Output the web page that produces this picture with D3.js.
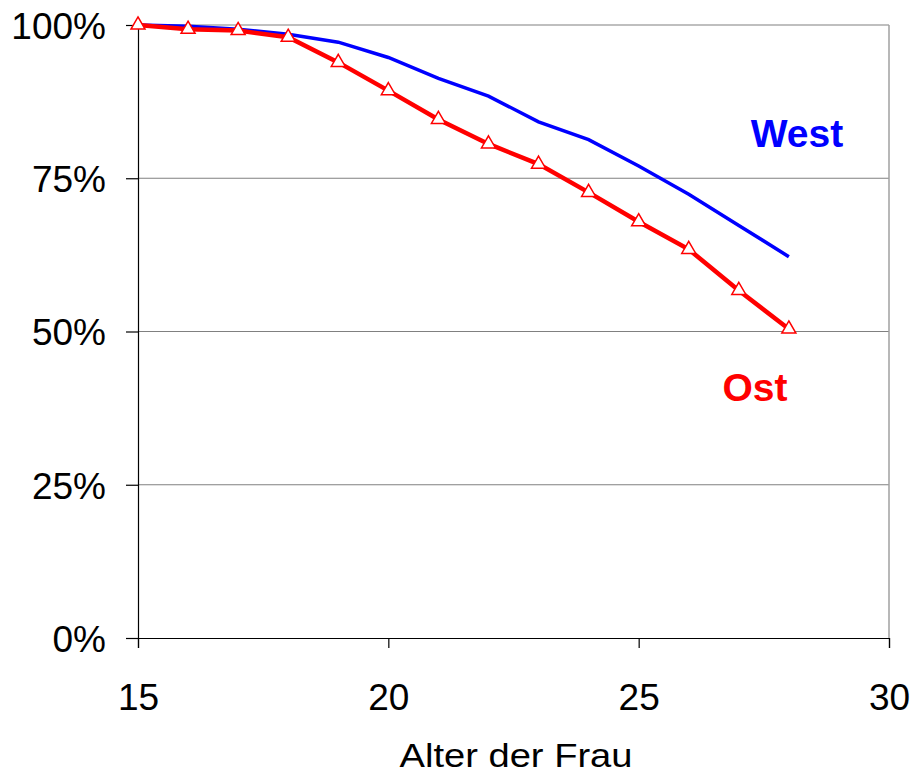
<!DOCTYPE html>
<html>
<head>
<meta charset="utf-8">
<script src="https://cdn.jsdelivr.net/npm/d3@7"></script>
<style>
body { margin: 0; background: #fff; }
</style>
</head>
<body>
<svg id="chart"></svg>
<script>
var ages = [15, 16, 17, 18, 19, 20, 21, 22, 23, 24, 25, 26, 27, 28];
var west = [100, 99.8, 99.3, 98.5, 97.2, 94.7, 91.3, 88.4, 84.2, 81.3, 77.0, 72.4, 67.3, 62.2];
var ost = [100, 99.3, 99.1, 98.0, 93.9, 89.3, 84.6, 80.6, 77.3, 72.7, 67.9, 63.4, 56.7, 50.4];
var xTicks = [15, 20, 25, 30];
var yTicks = [0, 25, 50, 75, 100];

var width = 915, height = 775;
var margin = {top: 25, right: 26, bottom: 137, left: 138};
var font = "'Liberation Sans', Arial, sans-serif";

var svg = d3.select("#chart")
    .attr("width", width)
    .attr("height", height);

var x = d3.scaleLinear().domain([15, 30]).range([margin.left, width - margin.right]);
var y = d3.scaleLinear().domain([0, 100]).range([height - margin.bottom, margin.top]);

// gridlines
svg.append("g")
    .selectAll("line")
    .data(yTicks.filter(function (d) { return d > 0; }))
    .enter().append("line")
    .attr("x1", x(15)).attr("x2", x(30))
    .attr("y1", function (d) { return y(d); })
    .attr("y2", function (d) { return y(d); })
    .attr("stroke", "#808080")
    .attr("stroke-width", 1.2);

// right border
svg.append("line")
    .attr("x1", x(30)).attr("x2", x(30))
    .attr("y1", y(100)).attr("y2", y(0))
    .attr("stroke", "#a0a0a0")
    .attr("stroke-width", 1.5);

var yAxis = d3.axisLeft(y).tickValues(yTicks).tickSize(12).tickPadding(20)
    .tickFormat(function (d) { return d + "%"; });
var gy = svg.append("g")
    .attr("transform", "translate(" + margin.left + ",0)")
    .call(yAxis);
gy.select(".domain").attr("stroke", "#000").attr("stroke-width", 1.2);
gy.selectAll(".tick line").attr("stroke", "#000").attr("stroke-width", 1.2);
gy.selectAll("text")
    .style("font-family", font)
    .style("font-size", "37px")
    .attr("fill", "#000")
    .attr("dy", "0.36em");

var xAxis = d3.axisBottom(x).tickValues(xTicks).tickSize(10).tickPadding(36)
    .tickFormat(d3.format("d"));
var gx = svg.append("g")
    .attr("transform", "translate(0," + y(0) + ")")
    .call(xAxis);
gx.select(".domain").attr("stroke", "#000").attr("stroke-width", 1.2);
gx.selectAll(".tick line").attr("stroke", "#000").attr("stroke-width", 1.2);
gx.selectAll("text")
    .style("font-family", font)
    .style("font-size", "37px")
    .attr("fill", "#000");

svg.append("text")
    .attr("x", 516)
    .attr("y", 767)
    .attr("text-anchor", "middle")
    .attr("textLength", 233)
    .attr("lengthAdjust", "spacingAndGlyphs")
    .style("font-family", font)
    .style("font-size", "34px")
    .text("Alter der Frau");

var line = d3.line()
    .x(function (d, i) { return x(ages[i]); })
    .y(function (d) { return y(d); });

svg.append("path")
    .datum(west)
    .attr("d", line)
    .attr("fill", "none")
    .attr("stroke", "#0000ff")
    .attr("stroke-width", 3.5);

svg.append("path")
    .datum(ost)
    .attr("d", line)
    .attr("fill", "none")
    .attr("stroke", "#ff0000")
    .attr("stroke-width", 4.5);

var tri = d3.symbol().type(d3.symbolTriangle).size(85);
svg.selectAll(".marker")
    .data(ost)
    .enter().append("path")
    .attr("class", "marker")
    .attr("d", tri)
    .attr("transform", function (d, i) { return "translate(" + x(ages[i]) + "," + y(d) + ")"; })
    .attr("fill", "#fff")
    .attr("stroke", "#ff0000")
    .attr("stroke-width", 1.5);

svg.append("text")
    .attr("x", 797)
    .attr("y", 147)
    .attr("text-anchor", "middle")
    .attr("fill", "#0000ff")
    .style("font-family", font)
    .style("font-weight", "bold")
    .style("font-size", "39px")
    .text("West");

svg.append("text")
    .attr("x", 755)
    .attr("y", 401)
    .attr("text-anchor", "middle")
    .attr("fill", "#ff0000")
    .style("font-family", font)
    .style("font-weight", "bold")
    .style("font-size", "39px")
    .text("Ost");
</script>
</body>
</html>
